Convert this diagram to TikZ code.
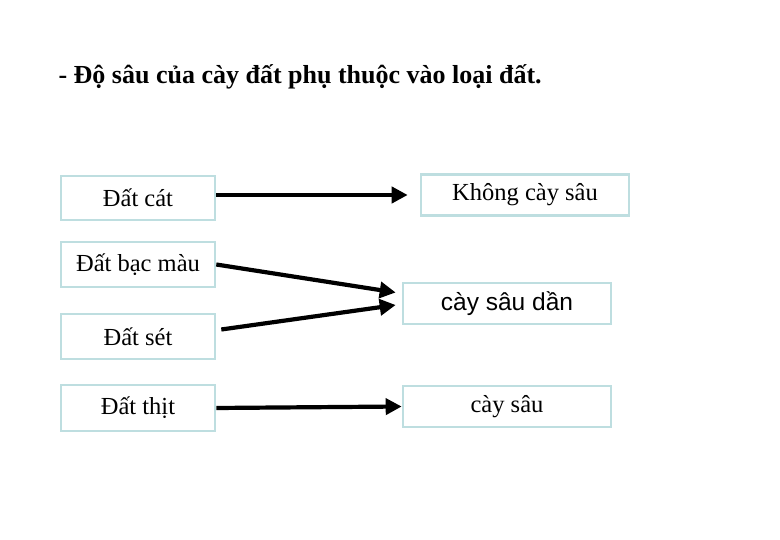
\documentclass[tikz,border=0pt]{standalone}
\usepackage{fontspec}
\setmainfont{Liberation Serif}
\newfontfamily\arialfont{Liberation Sans}
\usepackage{xcolor}
\usepackage{tikz}
\usetikzlibrary{arrows.meta,positioning}
\definecolor{boxline}{RGB}{190,222,224}

\begin{document}
\begin{tikzpicture}[
    x=1pt, y=-1pt,
    soil/.style ={draw=boxline, line width=2.6pt, fill=white, minimum width=154pt, inner sep=0pt, font=\fontsize{24.5}{28}\selectfont},
    depth/.style={draw=boxline, line width=2.6pt, fill=white, minimum width=208pt, minimum height=41pt, inner sep=0pt, font=\fontsize{24.5}{28}\selectfont},
    link/.style ={line width=4.2pt, -{Triangle[length=16pt,width=16pt]}},
    title/.style={font=\bfseries\fontsize{26}{30}\selectfont, anchor=base west}
]
\useasboundingbox (0,0) rectangle (780,540);

% Heading
\node[title] (head) at (55, 84) {- Độ sâu của cày đất phụ thuộc vào loại đất.};

% Left column: soil types
\node[soil, minimum height=44pt] (cat)    at (138, 198)   {Đất cát};
\node[soil, minimum height=45pt] (bacmau) at (138, 264.5) {Đất bạc màu};
\node[soil, minimum height=45pt] (set)    at (138, 336.5) {Đất sét};
\node[soil, minimum height=46pt] (thit)   at (138, 408)   {Đất thịt};

% Right column: ploughing depth
\node[depth] (khong) at (525, 195)   {Không cày sâu};
\node[depth] (dan)   at (507, 303.5) {\arialfont cày sâu dần};
\node[depth] (sau)   at (507, 406.5) {cày sâu};

% Arrow ends at the middle box
\coordinate (danin1) at ([shift={(-6,-11)}]dan.west);
\coordinate (danin2) at ([shift={(-6,1.5)}]dan.west);
\coordinate (setout) at ([shift={(5,-7)}]set.east);

% Connectors
\draw[link, shorten >=12pt] (cat.east |- khong.west) -- (khong.west);
\draw[link] (bacmau.east) -- (danin1);
\draw[link] (setout) -- (danin2);
\draw[link] (thit.east) -- (sau.west);
\end{tikzpicture}
\end{document}
